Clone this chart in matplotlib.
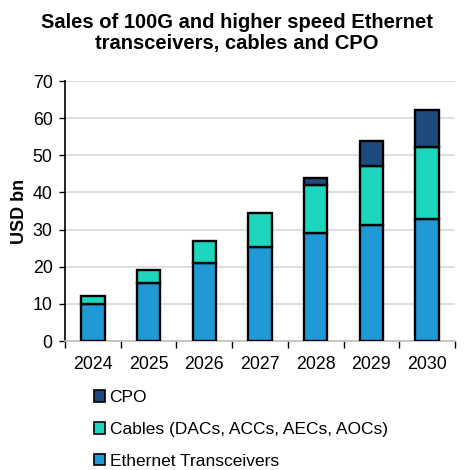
import matplotlib.pyplot as plt
import numpy as np
from matplotlib.patches import Patch

years = ["2024", "2025", "2026", "2027", "2028", "2029", "2030"]
ethernet = [10.0, 15.7, 21.1, 25.4, 29.2, 31.3, 32.9]
cables = [2.1, 3.4, 5.8, 9.1, 12.8, 15.8, 19.3]
cpo = [0.0, 0.0, 0.0, 0.0, 1.8, 6.7, 10.0]

c_eth = "#1F9AD6"
c_cab = "#1DD6BE"
c_cpo = "#1F4A7E"

plt.rcParams["font.family"] = ["Liberation Sans", "DejaVu Sans"]

fig = plt.figure(figsize=(4.68, 4.70), dpi=100)
ax = fig.add_axes([65 / 468, 1 - 341 / 470, 390 / 468, 260 / 470])

x = np.arange(len(years))
w = 0.42
kw = dict(width=w, edgecolor="black", linewidth=1.7, zorder=3)
ax.bar(x, ethernet, color=c_eth, **kw)
ax.bar(x, cables, bottom=ethernet, color=c_cab, **kw)
bottom2 = np.array(ethernet) + np.array(cables)
cpo_arr = np.array(cpo)
mask = cpo_arr > 0
ax.bar(x[mask], cpo_arr[mask], bottom=bottom2[mask], color=c_cpo, **kw)

ax.set_xlim(-0.5, len(years) - 0.5)
ax.set_ylim(0, 70)
ax.set_yticks(range(0, 71, 10))
ax.set_xticks(x)
ax.set_xticklabels(years, fontsize=12.8)
ax.set_xticks(np.arange(-0.5, len(years), 1), minor=True)
ax.tick_params(axis="x", which="major", length=0, pad=11)
ax.tick_params(axis="x", which="minor", length=5, color="black", width=1)
ax.tick_params(axis="y", labelsize=12.8, length=4, color="black", width=1, pad=5)
ax.yaxis.grid(True, color="#D9D9D9", linewidth=1.2, zorder=0)
ax.set_axisbelow(True)
for s in ["top", "right"]:
    ax.spines[s].set_visible(False)
ax.spines["left"].set_color("black")
ax.spines["left"].set_linewidth(1.2)
ax.spines["bottom"].set_color("#BFBFBF")
ax.spines["bottom"].set_linewidth(1.2)
ax.set_ylabel("USD bn", fontsize=13, fontweight="bold", labelpad=3)

fig.text(0.506, 0.972, "Sales of 100G and higher speed Ethernet\ntransceivers, cables and CPO",
         ha="center", va="top", fontsize=14.5, fontweight="bold", linespacing=1.1)

handles = [Patch(facecolor=c_cpo, edgecolor="black", linewidth=1.2, label="CPO"),
           Patch(facecolor=c_cab, edgecolor="black", linewidth=1.2, label="Cables (DACs, ACCs, AECs, AOCs)"),
           Patch(facecolor=c_eth, edgecolor="black", linewidth=1.2, label="Ethernet Transceivers")]
fig.legend(handles=handles, loc="upper left", bbox_to_anchor=(94 / 468, 1 - 390 / 470),
           frameon=False, fontsize=12.5, handlelength=0.65, handleheight=0.65,
           handletextpad=0.25, labelspacing=0.97, borderaxespad=0, borderpad=0)

fig.savefig("out.png", dpi=100)
